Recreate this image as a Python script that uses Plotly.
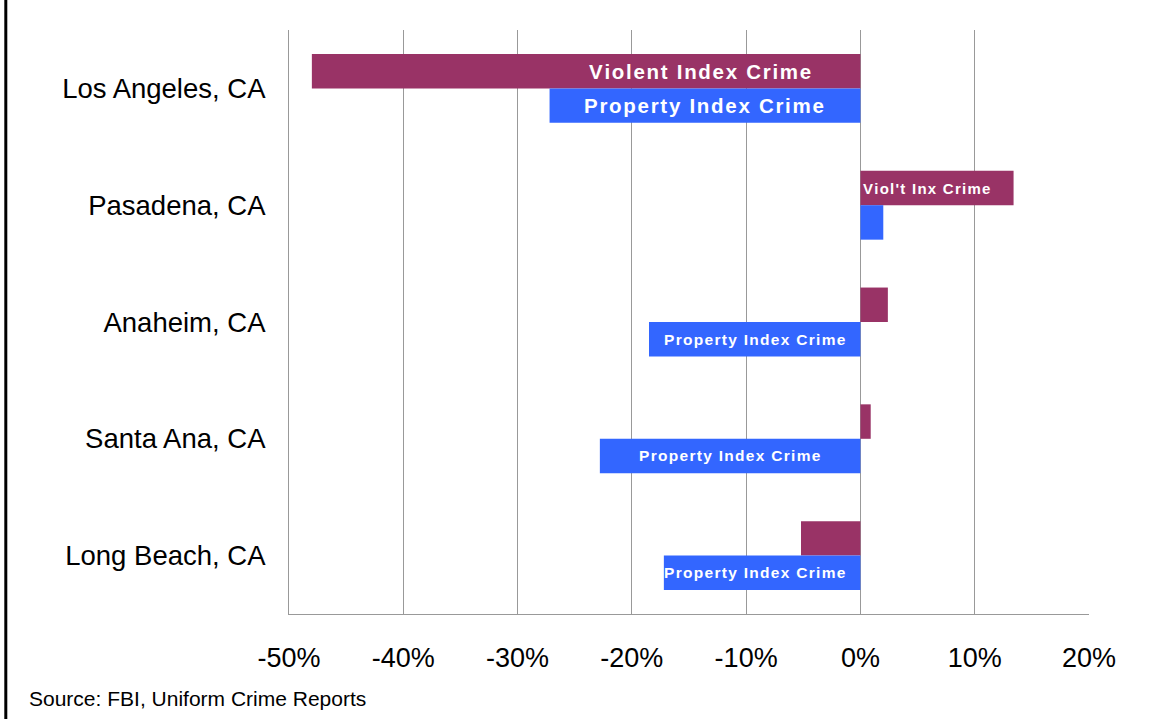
import plotly.graph_objects as go

cities = ['Los Angeles, CA', 'Pasadena, CA', 'Anaheim, CA', 'Santa Ana, CA', 'Long Beach, CA']
violent = [-48.0, 13.4, 2.4, 0.9, -5.2]
prop = [-27.2, 2.0, -18.5, -22.8, -17.2]

# in-bar labels: (city, series, text, x of label, font size)
labels = [
    ('Los Angeles, CA', 'violent', 'Violent Index Crime', -14.0, 20.5),
    ('Los Angeles, CA', 'property', 'Property Index Crime', -13.7, 20.5),
    ('Pasadena, CA', 'violent', "Viol't Inx Crime", 0.05, 15),
    ('Anaheim, CA', 'property', 'Property Index Crime', -9.2, 15.5),
    ('Santa Ana, CA', 'property', 'Property Index Crime', -11.4, 15.5),
    ('Long Beach, CA', 'property', 'Property Index Crime', -9.2, 15.5),
]
x_ticks = [-50, -40, -30, -20, -10, 0, 10, 20]
source = 'Source: FBI, Uniform Crime Reports'

VIOLENT_COLOR = '#993366'
PROPERTY_COLOR = '#3366FF'
FONT = 'Liberation Sans, Arial'


def spaced(s):
    # the original labels are drawn with a little letter spacing
    return '\u200a'.join(s)


fig = go.Figure()
fig.add_trace(go.Bar(y=cities, x=violent, orientation='h', name='Violent Index Crime',
                     marker=dict(color=VIOLENT_COLOR, line=dict(width=0))))
fig.add_trace(go.Bar(y=cities, x=prop, orientation='h', name='Property Index Crime',
                     marker=dict(color=PROPERTY_COLOR, line=dict(width=0))))

for city, series, text, xpos, size in labels:
    fig.add_annotation(
        x=xpos, y=city, xref='x', yref='y',
        text='<b>' + spaced(text) + '</b>',
        showarrow=False,
        xanchor='left' if series == 'violent' and xpos > 0 else 'center',
        yshift=17 if series == 'violent' else -17,
        font=dict(family=FONT, size=size, color='white'),
    )

fig.add_annotation(
    x=-0.327, y=-0.144, xref='paper', yref='paper',
    text=source, showarrow=False,
    xanchor='left', yanchor='middle',
    font=dict(family=FONT, size=21, color='black'),
)

# left frame line
fig.add_shape(type='line', xref='paper', yref='paper',
              x0=-0.354, x1=-0.354, y0=-0.2, y1=1.06,
              line=dict(color='black', width=3))

fig.update_layout(
    width=1154, height=719,
    margin=dict(l=289, r=65, t=30, b=105),
    barmode='group', bargap=0.41, bargroupgap=0,
    showlegend=False,
    plot_bgcolor='white', paper_bgcolor='white',
    font=dict(family=FONT, color='black'),
    xaxis=dict(
        range=[-50, 20], tickvals=x_ticks,
        ticktext=[f'{v}%' for v in x_ticks],
        showgrid=True, gridcolor='#999999', gridwidth=1,
        zeroline=False, showline=True, linecolor='#999999', linewidth=1,
        tickfont=dict(size=27), ticklabelstandoff=20,
    ),
    yaxis=dict(
        autorange='reversed', showgrid=False, zeroline=False,
        showline=True, linecolor='#999999', linewidth=1,
        tickfont=dict(size=27.5), ticklabelstandoff=17,
    ),
)

fig.write_html('out.html', config={'displayModeBar': False},
               post_script="document.body.style.margin = '0';")
